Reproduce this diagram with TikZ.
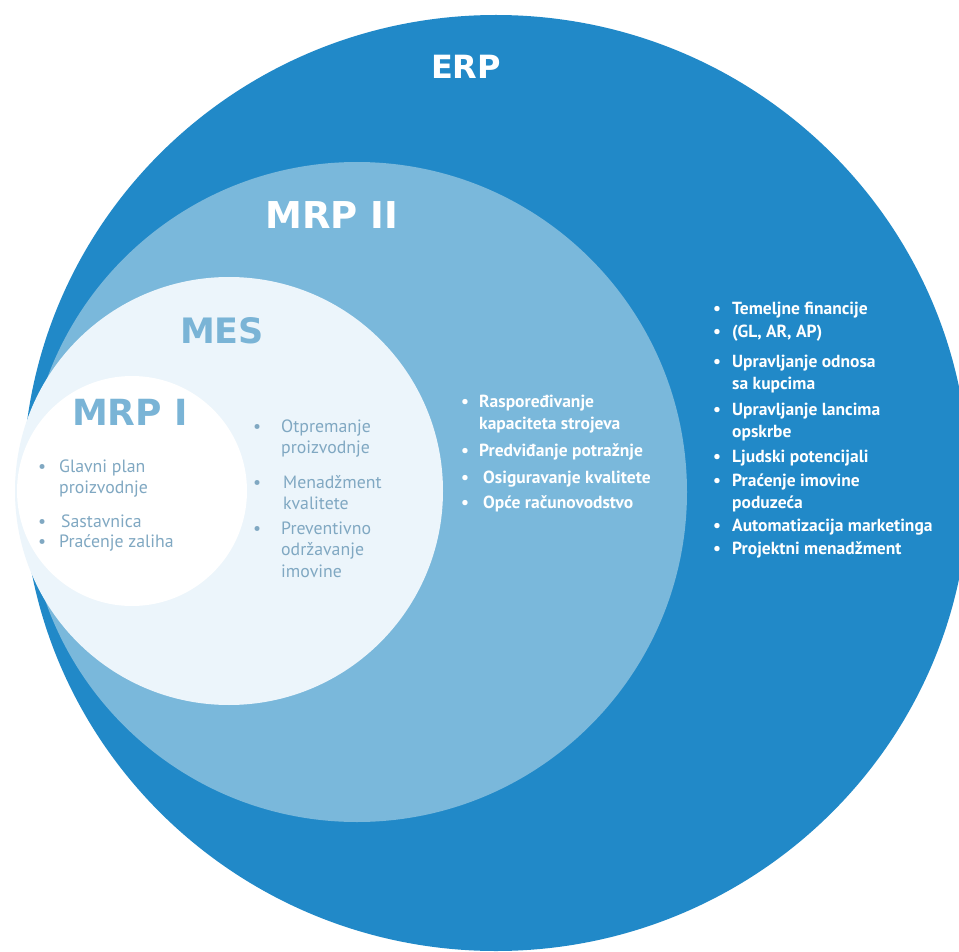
\documentclass[tikz,border=0pt]{standalone}
\usepackage{fontspec}
\setmainfont{PT Sans}
\newfontfamily\headfont{DejaVu Sans}
\usetikzlibrary{positioning}

\definecolor{erpblue}{RGB}{33,137,200}
\definecolor{mrpblue}{RGB}{122,184,219}
\definecolor{mespale}{RGB}{236,245,251}
\definecolor{headblue}{RGB}{122,180,214}
\definecolor{itemgrey}{RGB}{128,168,194}

% bullet box and hanging indent
\newcommand{\bl}[1]{\makebox[#1][l]{\textbullet}}
\newcommand{\ind}[1]{\hspace*{#1}}

\tikzset{
    heading/.style={anchor=base, inner sep=0pt, font=\headfont\bfseries\fontsize{36}{42}\selectfont},
    darkitem/.style={anchor=west, inner sep=0pt, align=left, text=white,
        font=\bfseries\fontsize{17.5}{21.5}\selectfont},
    paleitem/.style={anchor=west, inner sep=0pt, align=left, text=itemgrey,
        font=\fontsize{17.8}{21.5}\selectfont}
}

\begin{document}
\begin{tikzpicture}[x=1pt, y=-1pt]
                    \useasboundingbox (0, 0) rectangle (959, 952);
                    \fill[white] (0, 0) rectangle (959, 952);
                    % Circles
                    \fill[erpblue] (496, 483) ellipse [x radius=473, y radius=468];
                    \fill[mrpblue] (357, 492) circle [radius=330];
                    \fill[mespale] (229, 491) circle [radius=214];
                    \fill[white] (132, 491) circle [radius=115];
                    % Labels
                    \node[heading, text=white, font=\headfont\bfseries\fontsize{32}{38}\selectfont] (erp) at (466, 79) {ERP};
                    \node[heading, text=white, font=\headfont\bfseries\fontsize{37}{42}\selectfont] (mrptwo) at (332, 229) {MRP II};
                    \node[heading, text=headblue, font=\headfont\bfseries\fontsize{35}{40}\selectfont] (mes) at (222, 343) {MES};
                    \node[heading, text=headblue] (mrpone) at (130, 425) {MRP I};
                    % ERP elements
                    \node[darkitem] (erpa) at (713, 310) {\bl{19pt}Temeljne financije};
                    \node[darkitem] (erpb) at (713, 333) {\bl{19pt}(GL, AR, AP)};
                    \node[darkitem] (erpc) at (713, 374) {\bl{19pt}Upravljanje odnosa\\\ind{19pt}sa kupcima};
                    \node[darkitem] (erpd) at (713, 422) {\bl{19pt}Upravljanje lancima\\\ind{19pt}opskrbe};
                    \node[darkitem] (erpe) at (713, 458) {\bl{19pt}Ljudski potencijali};
                    \node[darkitem] (erpf) at (713, 493) {\bl{19pt}Praćenje imovine\\\ind{19pt}poduzeća};
                    \node[darkitem] (erpg) at (713, 527) {\bl{19pt}Automatizacija marketinga};
                    \node[darkitem] (erph) at (713, 550) {\bl{19pt}Projektni menadžment};
                    % MRP II elements
                    \node[darkitem] (mrptwoa) at (461, 414) {\bl{18pt}Raspoređivanje\\\ind{18pt}kapaciteta strojeva};
                    \node[darkitem] (mrptwob) at (461, 452) {\bl{18pt}Predviđanje potražnje};
                    \node[darkitem] (mrptwoc) at (461, 479) {\bl{22pt}Osiguravanje kvalitete};
                    \node[darkitem] (mrptwod) at (461, 504) {\bl{22pt}Opće računovodstvo};
                    % MES elements
                    \node[paleitem] (mesa) at (253, 438.5) {\bl{28pt}Otpremanje\\\ind{28pt}proizvodnje};
                    \node[paleitem] (mesb) at (253, 492.5) {\bl{30pt}Menadžment\\\ind{30pt}kvalitete};
                    \node[paleitem] (mesc) at (253, 549.5) {\bl{28pt}Preventivno\\\ind{28pt}održavanje\\\ind{28pt}imovine};
                    % MRP I elements
                    \node[paleitem] (mrponea) at (38, 478.5) {\bl{21pt}Glavni plan\\\ind{21pt}proizvodnje};
                    \node[paleitem] (mrponeb) at (38, 521) {\bl{23pt}Sastavnica};
                    \node[paleitem] (mrponec) at (38, 543) {\bl{21pt}Praćenje zaliha};
                \end{tikzpicture}
\end{document}
